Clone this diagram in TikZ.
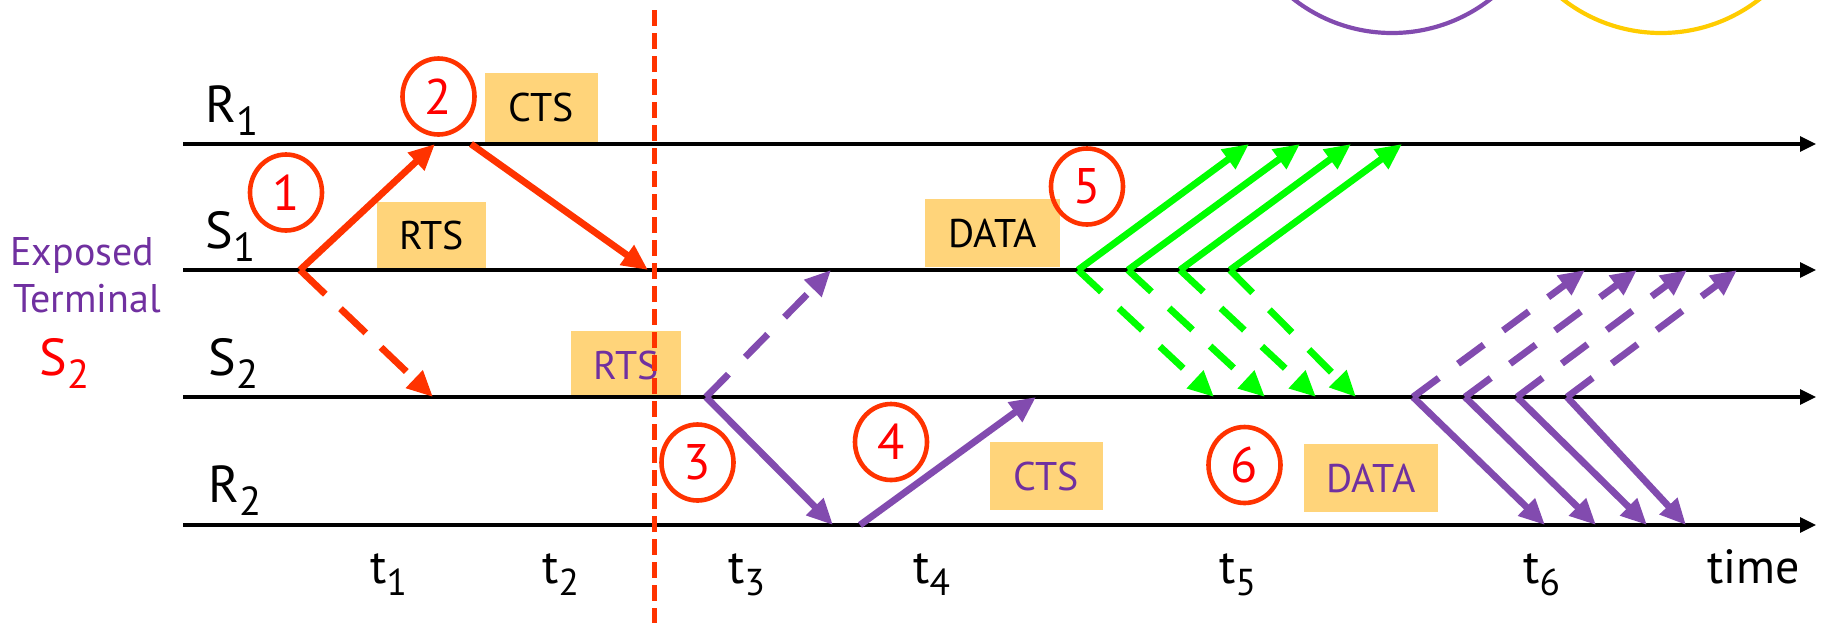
\documentclass[tikz,border=0pt]{standalone}
\usepackage{fontspec}
\setmainfont{PT Sans}
\usetikzlibrary{arrows.meta,shapes.geometric}
\definecolor{myred}{RGB}{255,51,0}
\definecolor{digitred}{RGB}{255,0,0}
\definecolor{mypurple}{RGB}{130,75,175}
\definecolor{txtpurple}{RGB}{112,48,160}
\definecolor{mygreen}{RGB}{0,255,0}
\definecolor{boxfill}{RGB}{255,212,122}
\definecolor{myyellow}{RGB}{255,204,0}
\newcommand{\lsub}[1]{\raisebox{-0.26em}{\scalebox{0.78}{#1}}}
\begin{document}
\begin{tikzpicture}[x=0.5pt,y=-0.5pt,
  timeline/.style={line width=1.6pt,-{Triangle[length=8pt,width=7.5pt]}},
  sig/.style={line width=3.4pt,-{Triangle[length=13pt,width=11.5pt]}},
  sigdash/.style={sig,dash pattern=on 16pt off 12pt},
  reddash/.style={sig,dash pattern=on 17.5pt off 10.5pt},
  lbl/.style={anchor=base west,inner sep=0,font=\fontsize{26}{30}\selectfont},
  tlbl/.style={anchor=base west,inner sep=0,font=\fontsize{24}{28}\selectfont},
  msgbox/.style={fill=boxfill,inner sep=0,font=\fontsize{20}{24}\selectfont},
  stepnum/.style={draw=myred,line width=2.3pt,ellipse,minimum width=36pt,minimum height=38pt,inner sep=0,text=digitred,font=\fontsize{25}{29}\selectfont},
]
\useasboundingbox (0,0) rectangle (1821,623);

% partial circles at the top
\begin{scope}
  \clip (0,0) rectangle (1821,623);
  \draw[mypurple,line width=2.1pt] (1392,-127) circle [radius=160];
  \draw[myyellow,line width=2.1pt] (1661,-127) circle [radius=160];
\end{scope}

% message boxes
\node[msgbox,minimum width=56.5pt,minimum height=34.5pt] (cts1) at (541.5,107.5) {CTS};
\node[msgbox,minimum width=54.5pt,minimum height=33.5pt] (rts1) at (431.5,235.5) {RTS};
\node[msgbox,minimum width=55pt,minimum height=34pt,text=txtpurple] (rts2) at (626,365) {RTS};
\node[msgbox,minimum width=67.5pt,minimum height=34pt] (data1) at (992.5,233) {DATA};
\node[msgbox,minimum width=56.5pt,minimum height=34pt,text=txtpurple] (cts2) at (1046.5,476) {CTS};
\node[msgbox,minimum width=67pt,minimum height=34pt,text=txtpurple] (data2) at (1371,478) {DATA};

% time lines
\coordinate (R1s) at (183,144); \coordinate (R1e) at (1816,144);
\coordinate (S1s) at (183,270); \coordinate (S1e) at (1816,270);
\coordinate (S2s) at (183,397); \coordinate (S2e) at (1816,397);
\coordinate (R2s) at (183,525); \coordinate (R2e) at (1816,525);
\draw[timeline] (R1s) -- (R1e);
\draw[timeline] (S1s) -- (S1e);
\draw[timeline] (S2s) -- (S2e);
\draw[timeline] (R2s) -- (R2e);

% node labels
\node[lbl] (lR1) at (205,122) {R\lsub{1}};
\node[lbl] (lS1) at (205,248) {S\lsub{1}};
\node[lbl] (lS2) at (208,375) {S\lsub{2}};
\node[lbl] (lR2) at (208,502) {R\lsub{2}};
\node[anchor=base west,inner sep=0,font=\fontsize{20}{24}\selectfont,text=txtpurple] (exp1) at (10,265) {Exposed};
\node[anchor=base west,inner sep=0,font=\fontsize{20}{24}\selectfont,text=txtpurple] (exp2) at (13,312) {Terminal};
\node[lbl,text=digitred] (lS2red) at (39,375) {S\lsub{2}};

% time labels
\node[tlbl] (t1) at (370,583) {t\lsub{1}};
\node[tlbl] (t2) at (542,583) {t\lsub{2}};
\node[tlbl] (t3) at (728,583) {t\lsub{3}};
\node[tlbl] (t4) at (913,583) {t\lsub{4}};
\node[tlbl] (t5) at (1219,583) {t\lsub{5}};
\node[tlbl] (t6) at (1523,583) {t\lsub{6}};
\node[tlbl] (time) at (1707,583) {time};

% red RTS / CTS exchange
\coordinate (a1s) at (300,270);
\coordinate (a1e) at (435,144);
\coordinate (a1d) at (433,397);
\coordinate (a2s) at (471,144);
\coordinate (a2e) at (648,270);
\draw[sig,myred] (a1s) -- (a1e);
\draw[reddash,myred] (a1s) -- (a1d);
\draw[sig,myred] (a2s) -- (a2e);

% purple RTS / CTS exchange
\coordinate (p3s) at (706,397);
\coordinate (p3e) at (833,525);
\coordinate (p3d) at (831,270);
\coordinate (p4s) at (860,525);
\coordinate (p4e) at (1036,397);
\draw[sig,mypurple] (p3s) -- (p3e);
\draw[sigdash,mypurple] (p3s) -- (p3d);
\draw[sig,mypurple] (p4s) -- (p4e);

% green DATA
\foreach \i/\xs/\xu/\xd in {1/1078/1249/1214,2/1128/1300/1265,3/1180/1351/1316,4/1230/1402/1356}{
  \coordinate (g\i s) at (\xs,270);
  \coordinate (g\i u) at (\xu,144);
  \coordinate (g\i d) at (\xd,397);
  \draw[sig,mygreen] (g\i s) -- (g\i u);
  \draw[sigdash,mygreen] (g\i s) -- (g\i d);
}

% purple DATA
\foreach \i/\xs/\xd/\xu in {1/1413/1545/1585,2/1465/1596/1637,3/1517/1647/1687,4/1567/1686/1737}{
  \coordinate (q\i s) at (\xs,397);
  \coordinate (q\i d) at (\xd,525);
  \coordinate (q\i u) at (\xu,270);
  \draw[sig,mypurple] (q\i s) -- (q\i d);
  \draw[sigdash,mypurple] (q\i s) -- (q\i u);
}

% step numbers
\node[stepnum] (n1) at (286,192.5) {1};
\node[stepnum] (n2) at (438.5,96.5) {2};
\node[stepnum] (n3) at (697.5,462.5) {3};
\node[stepnum] (n4) at (891,442) {4};
\node[stepnum] (n5) at (1087,186.5) {5};
\node[stepnum] (n6) at (1244.5,465) {6};

% separator
\coordinate (vtop) at (654,10);
\coordinate (vbot) at (654,623);
\draw[myred,line width=2.5pt,dash pattern=on 8pt off 3.5pt] (vtop) -- (vbot);
\end{tikzpicture}
\end{document}
